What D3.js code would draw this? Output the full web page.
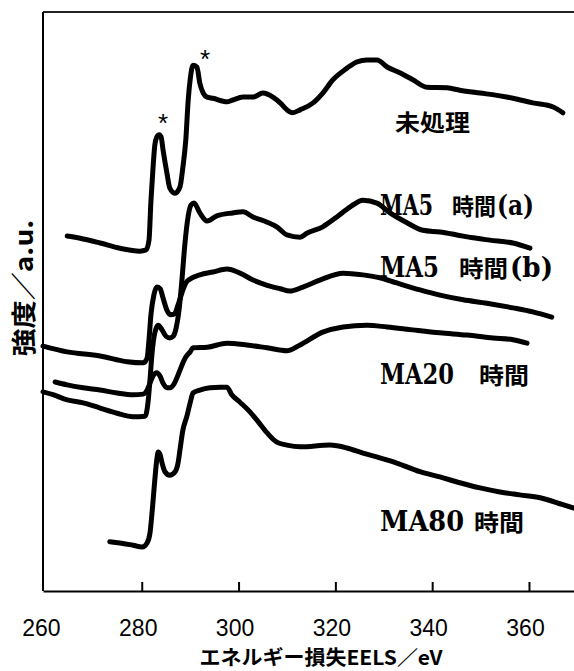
<!DOCTYPE html>
<html>
<head>
<meta charset="utf-8">
<script src="https://cdn.jsdelivr.net/npm/d3@7"></script>
<style>
  body { margin: 0; background: #fff; }
</style>
</head>
<body>
<div id="chart"></div>
<script>
// EELS spectra: energy loss (eV) and intensity (a.u., 0-100)

// 未処理
var ev0 = [264.6, 267.9, 271.4, 275.5, 279.6, 280.9, 281.5, 281.9, 282.3, 282.7, 283.1, 283.6, 284.0, 284.4, 285.2, 285.8, 286.9, 287.9, 288.5, 289.1, 289.6, 290.0, 290.6, 291.4, 292.0, 292.7, 293.5, 294.7, 297.6, 298.8, 300.9, 303.0, 305.0, 307.1, 308.6, 310.0, 311.2, 312.7, 315.4, 317.4, 319.5, 322.4, 324.5, 326.5, 328.6, 330.7, 333.3, 336.0, 338.9, 343.1, 345.7, 349.9, 353.4, 356.7, 360.8, 365.0, 367.0];
var int0 = [61.3, 60.8, 60.1, 59.2, 58.7, 58.9, 60.6, 67.4, 72.7, 77.0, 78.4, 78.8, 78.4, 76.2, 72.2, 69.6, 68.7, 69.8, 73.2, 77.9, 84.8, 88.3, 90.8, 90.5, 87.7, 86.0, 85.3, 85.1, 84.5, 84.8, 85.3, 85.3, 86.0, 85.3, 84.3, 83.1, 82.6, 83.1, 84.3, 86.0, 88.3, 90.3, 91.4, 91.7, 91.7, 90.5, 89.5, 88.3, 87.0, 86.9, 86.5, 86.0, 85.6, 85.1, 84.3, 83.6, 82.6];

// MA5 時間(a)
var ev1 = [259.6, 261.7, 264.6, 267.9, 271.4, 274.9, 278.2, 280.7, 281.3, 281.7, 282.1, 282.7, 283.4, 284.2, 285.0, 285.8, 286.5, 287.1, 287.7, 288.3, 288.9, 289.6, 290.2, 290.8, 292.0, 293.5, 295.5, 298.8, 300.9, 303.0, 305.9, 307.9, 310.0, 312.7, 314.1, 317.4, 320.3, 323.0, 325.7, 328.6, 331.3, 334.8, 338.1, 341.6, 345.1, 348.4, 351.9, 356.7, 360.2];
var int1 = [34.4, 33.9, 33.0, 32.5, 31.6, 30.7, 30.1, 30.2, 32.6, 36.4, 40.8, 44.6, 45.9, 45.1, 44.0, 43.7, 44.0, 45.4, 48.5, 53.7, 59.8, 64.8, 66.7, 67.0, 65.3, 63.9, 64.8, 65.3, 65.5, 64.6, 63.7, 62.9, 61.5, 61.1, 61.8, 62.9, 64.6, 66.3, 67.5, 67.0, 65.3, 63.6, 62.3, 62.0, 61.5, 61.0, 60.6, 60.1, 59.2];

// MA5 時間(b)
var ev2 = [259.6, 264.6, 271.4, 277.0, 280.3, 281.1, 281.5, 281.9, 282.5, 283.1, 283.8, 284.4, 285.2, 286.0, 286.7, 287.5, 288.3, 289.1, 290.0, 292.0, 294.7, 297.6, 300.3, 303.0, 305.9, 308.6, 310.6, 313.3, 316.8, 321.6, 325.7, 329.2, 332.7, 337.5, 341.6, 346.4, 351.3, 356.7, 360.8, 364.7];
var int2 = [42.3, 41.3, 40.6, 39.6, 39.4, 40.2, 43.4, 47.7, 51.1, 52.5, 52.2, 50.6, 48.5, 47.7, 47.8, 49.4, 51.5, 53.2, 53.9, 54.6, 55.1, 55.6, 54.9, 53.7, 52.8, 52.2, 51.8, 52.5, 53.7, 54.9, 54.6, 54.1, 53.2, 52.0, 51.1, 50.3, 49.7, 48.9, 48.2, 47.3];

// MA20 時間
var ev3 = [262.1, 264.6, 267.9, 271.4, 274.9, 278.2, 280.3, 281.1, 281.7, 282.3, 283.1, 283.8, 284.4, 285.2, 285.8, 286.7, 287.5, 288.3, 289.1, 290.0, 290.6, 293.5, 297.6, 301.7, 305.9, 310.0, 312.7, 317.4, 321.6, 326.5, 330.7, 336.0, 341.6, 347.2, 352.6, 356.7, 359.6];
var int3 = [36.1, 35.6, 35.1, 34.7, 34.2, 33.9, 34.0, 34.7, 35.9, 37.1, 37.7, 37.1, 35.9, 35.1, 35.1, 35.8, 37.3, 39.0, 40.4, 41.3, 42.0, 42.1, 42.8, 42.5, 42.0, 41.5, 42.5, 44.7, 45.6, 45.9, 45.6, 45.1, 44.6, 44.2, 43.7, 43.4, 42.8];

// MA80 時間
var ev4 = [273.4, 275.5, 278.2, 280.1, 281.1, 281.7, 282.3, 282.7, 283.1, 283.4, 283.8, 284.2, 284.8, 285.8, 286.9, 287.5, 287.9, 288.5, 289.3, 290.0, 290.6, 292.0, 294.1, 296.2, 297.6, 298.6, 300.3, 302.4, 303.8, 305.9, 307.9, 310.0, 312.7, 318.9, 322.4, 325.7, 329.2, 332.7, 337.5, 341.6, 345.7, 349.9, 354.0, 358.1, 362.3, 367.0, 369.3];
var int4 = [8.5, 8.3, 7.9, 7.6, 8.3, 10.0, 15.2, 19.2, 22.6, 24.0, 23.5, 22.1, 20.6, 20.0, 20.6, 22.1, 24.4, 27.8, 30.1, 32.5, 34.2, 34.7, 35.1, 35.2, 35.2, 33.9, 32.6, 30.9, 29.5, 27.3, 25.7, 25.2, 24.9, 25.2, 24.7, 23.8, 23.0, 22.1, 20.6, 19.7, 18.7, 17.8, 17.1, 16.6, 16.1, 14.9, 14.3];

// peak markers (*) : eV, intensity
var starEv = [284.4, 293.1];
var starInt = [81.9, 92.9];

var xTicks = [260, 280, 300, 320, 340, 360];

var spectra = [
  {ev: ev0, val: int0},
  {ev: ev1, val: int1},
  {ev: ev2, val: int2},
  {ev: ev3, val: int3},
  {ev: ev4, val: int4}
];

var W = 574, H = 671;
var plot = {left: 43, top: 12, right: 574, bottom: 591};

var svg = d3.select("#chart").append("svg")
  .attr("width", W).attr("height", H);

var x = d3.scaleLinear().domain([259.6, 369.3]).range([plot.left, plot.right]);
var y = d3.scaleLinear().domain([0, 100]).range([plot.bottom, plot.top]);

// frame: left axis and top border
svg.append("line")
  .attr("x1", plot.left).attr("x2", plot.left)
  .attr("y1", plot.top).attr("y2", plot.bottom)
  .attr("stroke", "#000").attr("stroke-width", 2);
svg.append("line")
  .attr("x1", plot.left).attr("x2", plot.right)
  .attr("y1", plot.top).attr("y2", plot.top)
  .attr("stroke", "#222").attr("stroke-width", 2);

// x axis, ticks point inward
var xAxis = svg.append("g")
  .attr("transform", "translate(0," + plot.bottom + ")")
  .call(d3.axisBottom(x).tickValues(xTicks).tickSizeInner(-9).tickSizeOuter(0).tickPadding(29));
xAxis.select(".domain").attr("stroke", "#000").attr("stroke-width", 2);
xAxis.selectAll(".tick line").attr("stroke", "#000").attr("stroke-width", 2)
  .filter(function(d) { return d === 260; }).remove();
xAxis.selectAll(".tick text")
  .attr("dx", -4)
  .style("font-family", "'Liberation Sans', Arial, sans-serif")
  .style("font-size", "23px")
  .attr("fill", "#000");

// spectra
var line = d3.line()
  .x(function(d) { return x(d[0]); })
  .y(function(d) { return y(d[1]); })
  .curve(d3.curveMonotoneX);

spectra.forEach(function(s) {
  svg.append("path")
    .datum(d3.zip(s.ev, s.val))
    .attr("d", line)
    .attr("fill", "none")
    .attr("stroke", "#000")
    .attr("stroke-width", 5)
    .attr("stroke-linejoin", "round")
    .attr("stroke-linecap", "round");
});

// peak markers
starEv.forEach(function(e, i) {
  svg.append("text")
    .attr("x", x(e)).attr("y", y(starInt[i]) + 15)
    .attr("text-anchor", "middle")
    .style("font-family", "'Liberation Sans', Arial, sans-serif")
    .style("font-size", "26px")
    .text("*");
});

// series labels, each piece squeezed to the width it has in the figure
var serif = "'DejaVu Serif', 'Liberation Serif', serif";
var cjk = "'Noto Sans CJK JP', sans-serif";

function piece(str, px, w, base, isCjk) {
  svg.append("text")
    .attr("x", px).attr("y", base)
    .attr("textLength", w).attr("lengthAdjust", "spacingAndGlyphs")
    .style("font-family", isCjk ? cjk : serif)
    .style("font-weight", "bold")
    .style("font-size", isCjk ? "23px" : "27px")
    .text(str);
}

piece("未処理", 395, 75, 131, true);

piece("MA5", 380, 53, 215, false);
piece("時間", 452, 44, 215, true);
piece("(a)", 497, 37, 215, false);

piece("MA5", 380, 59, 277, false);
piece("時間", 459, 49, 277, true);
piece("(b)", 510, 43, 277, false);

piece("MA20", 380, 74, 384, false);
piece("時間", 479, 50, 384, true);

piece("MA80", 380, 84, 531, false);
piece("時間", 474, 50, 531, true);

// axis titles
svg.append("text")
  .attr("x", 321).attr("y", 665)
  .attr("text-anchor", "middle")
  .attr("textLength", 243).attr("lengthAdjust", "spacingAndGlyphs")
  .style("font-family", cjk).style("font-weight", "bold").style("font-size", "20px")
  .text("エネルギー損失EELS／eV");

svg.append("text")
  .attr("transform", "translate(33,288) rotate(-90)")
  .attr("text-anchor", "middle")
  .attr("textLength", 137).attr("lengthAdjust", "spacingAndGlyphs")
  .style("font-family", cjk).style("font-weight", "bold").style("font-size", "25px")
  .text("強度／a.u.");
</script>
</body>
</html>
